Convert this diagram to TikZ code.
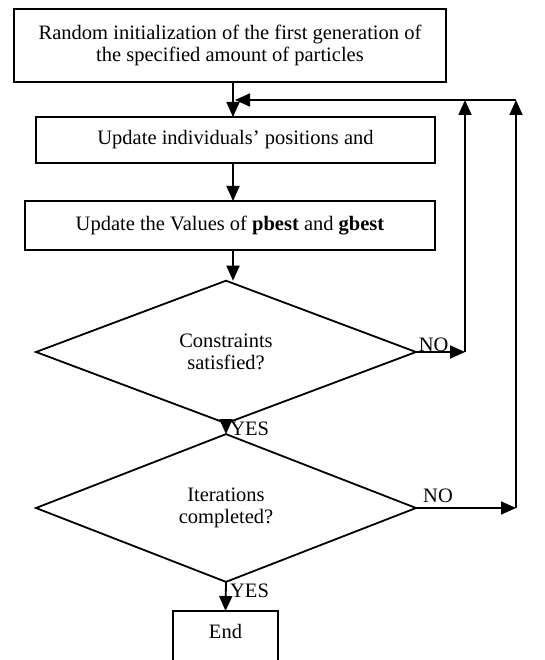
\documentclass[tikz,border=0pt]{standalone}
\usepackage{fontspec}
\setmainfont{Liberation Serif}
\usetikzlibrary{shapes.geometric,arrows.meta}
\begin{document}
\begin{tikzpicture}[x=1pt, y=-1pt, line width=1.8pt, outer sep=0,
    >={Triangle[length=15pt, width=13pt]},
    font=\fontsize{20.5}{22}\selectfont]
  \useasboundingbox (0,0) rectangle (544,660);
  \clip (0,0) rectangle (544,660);

  \node[rectangle, draw=black,
    align=center,
    minimum width = 432pt,
    minimum height = 73pt] (init) at (230, 45.5)
    {Random initialization of the first generation of\\the specified amount of particles};

  \node[rectangle, draw=black,
    minimum width = 399pt,
    minimum height = 46pt] (update) at (235.5, 140) {Update individuals’ positions and};

  \node[rectangle, draw=black,
    minimum width = 410pt,
    minimum height = 49pt] (values) at (230, 225.5) {Update the Values of \textbf{pbest} and \textbf{gbest}};

  \node[diamond, draw=black,
    align=center,
    minimum width = 380pt,
    minimum height = 133pt] (constr) at (226, 352) {Constraints\\satisfied?};

  \node[diamond, draw=black,
    align=center,
    minimum width = 380pt,
    minimum height = 131pt] (iter) at (226, 508) {Iterations\\completed?};

  \node[rectangle, draw=black,
    anchor=north,
    minimum width = 105pt,
    text height = 24.5pt,
    text depth = 33pt] (finish) at (225.5, 611) {End};

  \coordinate (col) at (233, 0);
  \coordinate (join) at (235, 100);
  \coordinate (c1) at (465, 352);
  \coordinate (c1top) at (465, 100);
  \coordinate (c2) at (516, 508);
  \coordinate (c2top) at (516, 100);

  \draw[->] (init.south -| col) -- (update.north -| col);
  \draw[->] (update.south -| col) -- (values.north -| col);
  \draw[->] (values.south -| col) -- (constr.north -| col);
  \draw[->] (constr.south) -- (iter.north) node[midway, right=1pt]{YES};
  \draw[->] (iter.south) -- (finish.north) node[pos=0.3, right=1pt]{YES};

  % loop back
  \draw[->] (constr.east) -- (c1) node[pos=0.36, above=-3pt]{NO};
  \draw[->] (c1) -- (c1top);
  \draw[->] (iter.east) -- (c2) node[pos=0.22, above=2pt]{NO};
  \draw[->] (c2) -- (c2top);
  \draw[->] (c2top) -- (join);
\end{tikzpicture}
\end{document}
